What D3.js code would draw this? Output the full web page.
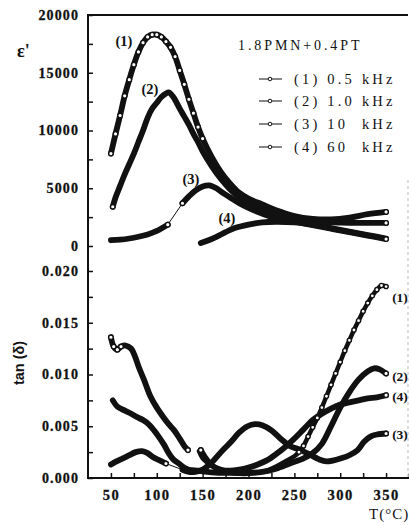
<!DOCTYPE html>
<html><head><meta charset="utf-8">
<script src="https://cdn.jsdelivr.net/npm/d3@7"></script>
<style>body{margin:0;background:#fff}svg{display:block}</style>
</head><body>
<script>
// ---------- data ----------
const seriesLabels = ["(1) 0.5 kHz", "(2) 1.0 kHz", "(3) 10  kHz", "(4) 60  kHz"];
const title = "1.8PMN+0.4PT";
const xTicks = [50, 100, 150, 200, 250, 300, 350];
const epsTicks = [0, 5000, 10000, 15000, 20000];
const tanTicks = [0.000, 0.005, 0.010, 0.015, 0.020];

// epsilon' (T, value)
const eps1 = [[50,8000],[55,9700],[60,11300],[65,13000],[70,14400],[75,15700],[80,16800],[85,17600],[90,18100],[95,18300],[100,18300],[105,18100],[110,17700],[115,17200],[120,16400],[125,15200],[130,14000],[135,12700],[140,11500],[145,10300],[150,9300],[160,7700],[170,6400],[180,5400],[190,4600],[200,4100],[215,3600],[230,3100],[250,2600],[270,2350],[290,2300],[310,2450],[330,2750],[350,2950]];
const eps2 = [[52,3400],[55,4200],[60,5200],[65,6200],[70,7100],[75,8000],[80,9000],[85,10000],[90,11100],[95,11900],[100,12400],[105,12900],[110,13200],[113,13300],[118,12900],[125,11900],[130,11200],[135,10500],[140,9700],[145,9000],[150,8200],[160,6900],[170,5800],[180,4900],[190,4200],[200,3700],[215,3200],[230,2750],[250,2400],[270,2150],[290,2050],[310,2000],[330,2000],[350,2000]];
const eps3a = [[50,500],[60,550],[70,650],[80,800],[90,1000],[100,1300],[112,1850]];
const eps3b = [[128,3700],[135,4300],[142,4800],[150,5150],[157,5250],[165,5000],[172,4600],[180,4200],[190,3700],[200,3300],[215,2800],[230,2400],[250,2100],[270,1800],[290,1500],[310,1200],[330,900],[350,600]];
const eps4 = [[148,250],[155,450],[165,800],[175,1200],[185,1550],[200,1850],[215,2050],[230,2100],[250,2050],[270,1850],[290,1550],[310,1250],[330,950],[350,650]];

// tan(delta) (T, value)
const tan1a = [[50,0.0136],[53,0.0127],[57,0.0124],[61,0.0127],[66,0.0128],[72,0.0125],[76,0.0118],[80,0.0108],[86,0.0095],[93,0.0079],[100,0.0068],[107,0.0059],[113,0.0052],[119,0.0046],[125,0.0038],[130,0.0031],[134,0.0027]];
const tan1b = [[146,0.0026],[150,0.0019],[160,0.0012],[170,0.0008],[180,0.0005],[190,0.0004],[200,0.0004],[210,0.0005],[220,0.0007],[230,0.0011],[240,0.0016],[250,0.0021],[255,0.0025],[260,0.0031],[265,0.0040],[270,0.0049],[275,0.0058],[280,0.0068],[285,0.0079],[290,0.0090],[295,0.0101],[300,0.0112],[305,0.0123],[310,0.0133],[315,0.0143],[320,0.0152],[325,0.0161],[330,0.0169],[335,0.0176],[340,0.0182],[345,0.0186],[350,0.0185]];
const tan2 = [[52,0.0075],[57,0.0069],[63,0.0066],[70,0.0063],[78,0.0059],[85,0.0056],[91,0.0052],[97,0.0046],[102,0.0040],[108,0.0032],[113,0.0024],[118,0.0018],[124,0.0014],[130,0.0010],[135,0.0008],[145,0.0007],[155,0.0006],[170,0.0005],[185,0.0005],[200,0.0005],[215,0.0006],[230,0.0009],[245,0.0014],[260,0.0019],[270,0.0024],[280,0.0033],[290,0.0050],[300,0.0068],[310,0.0083],[320,0.0095],[330,0.0103],[337,0.0106],[343,0.0105],[350,0.0101]];
const tan3a = [[50,0.0013],[56,0.0016],[63,0.0019],[70,0.0022],[77,0.0025],[84,0.0026],[90,0.0024],[96,0.0020],[103,0.0017],[110,0.0014]];
const tan3b = [[128,0.0008],[135,0.0006],[142,0.0006],[150,0.0008],[156,0.0012],[162,0.0017],[170,0.0025],[181,0.0035],[190,0.0044],[199,0.0050],[207,0.0052],[215,0.0051],[225,0.0046],[235,0.0038],[245,0.0031],[257,0.0027],[268,0.0022],[277,0.0018],[285,0.0016],[293,0.0017],[301,0.0019],[310,0.0022],[319,0.0027],[326,0.0035],[333,0.0040],[340,0.0042],[350,0.0043]];
const tan4 = [[148,0.0027],[152,0.0021],[160,0.0012],[170,0.0008],[180,0.0007],[190,0.0008],[200,0.0010],[210,0.0013],[220,0.0017],[230,0.0023],[240,0.0030],[250,0.0038],[260,0.0047],[270,0.0056],[280,0.0062],[290,0.0067],[300,0.0071],[310,0.0073],[320,0.0075],[330,0.0077],[340,0.0078],[350,0.0080]];

// ---------- drawing ----------
const W = 409, H = 525;
const svg = d3.select("body").append("svg").attr("width", W).attr("height", H);

const x = d3.scaleLinear().domain([25, 375]).range([88, 409]);
const yE = d3.scaleLinear().domain([0, 20000]).range([246, 15]);
const yT = d3.scaleLinear().domain([0, 0.020]).range([478, 271]);

const serif = "'Liberation Serif','DejaVu Serif',serif";
const sans = "'Liberation Sans',Arial,sans-serif";

// frame
svg.append("line").attr("x1", 88).attr("x2", 408).attr("y1", 15).attr("y2", 15)
  .attr("stroke", "#111").attr("stroke-width", 2);
svg.append("line").attr("x1", 408).attr("x2", 408).attr("y1", 180).attr("y2", 478)
  .attr("stroke", "#bbb").attr("stroke-width", 1).attr("stroke-dasharray", "3,3");

const axE = d3.axisLeft(yE).tickValues(d3.range(0, 20001, 2500))
  .tickFormat(d => d % 5000 === 0 ? d : "").tickSizeInner(-5).tickSizeOuter(0).tickPadding(9);
const gE = svg.append("g").attr("transform", "translate(88,0)").call(axE);
const axT = d3.axisLeft(yT).tickValues(d3.range(0, 9).map(i => i * 0.0025))
  .tickFormat(d => { const r = Math.round(d * 10000); return r % 50 === 0 ? d3.format(".3f")(d) : ""; })
  .tickSizeInner(-5).tickSizeOuter(0).tickPadding(9);
const gT = svg.append("g").attr("transform", "translate(88,0)").call(axT);
const axX = d3.axisBottom(x).tickValues(d3.range(50, 376, 25))
  .tickFormat(d => d % 50 === 0 ? d : "").tickSizeInner(-5).tickSizeOuter(0).tickPadding(12);
const gX = svg.append("g").attr("transform", "translate(0,478)").call(axX);

[gE, gT, gX].forEach(g => {
  g.selectAll(".domain").remove();
  g.selectAll(".tick line").attr("stroke", "#111").attr("stroke-width", 1.5);
  g.selectAll("text").attr("font-family", serif).attr("font-weight", "bold")
    .attr("font-size", 14).attr("fill", "#111").attr("letter-spacing", 1.1)
    .attr("stroke", "#111").attr("stroke-width", 0.3);
});
gX.selectAll("text").attr("font-size", 14.5).attr("letter-spacing", 1.5);
svg.append("line").attr("x1", 88).attr("x2", 88).attr("y1", 14).attr("y2", 479)
  .attr("stroke", "#111").attr("stroke-width", 2);
svg.append("line").attr("x1", 88).attr("x2", 409).attr("y1", 478).attr("y2", 478)
  .attr("stroke", "#111").attr("stroke-width", 2);

// curves
const lineE = d3.line().x(d => x(d[0])).y(d => yE(d[1])).curve(d3.curveCatmullRom);
const lineT = d3.line().x(d => x(d[0])).y(d => yT(d[1])).curve(d3.curveCatmullRom);

function thick(data, gen, w) {
  svg.append("path").datum(data).attr("d", gen).attr("fill", "none")
    .attr("stroke", "#111").attr("stroke-width", w || 5.8)
    .attr("stroke-linecap", "round").attr("stroke-linejoin", "round");
}
function thin(a, b, ys) {
  svg.append("line").attr("x1", x(a[0])).attr("y1", ys(a[1])).attr("x2", x(b[0])).attr("y2", ys(b[1]))
    .attr("stroke", "#111").attr("stroke-width", 1);
}
function circles(data, ys, r) {
  svg.append("g").selectAll("circle").data(data).join("circle")
    .attr("cx", d => x(d[0])).attr("cy", d => ys(d[1])).attr("r", r || 2.3)
    .attr("fill", "#fff").attr("stroke", "#111").attr("stroke-width", 1.4);
}

thick(eps4, lineE);
thick(eps3a, lineE); thick(eps3b, lineE); thin(eps3a[eps3a.length - 1], eps3b[0], yE);
thick(eps2, lineE);
thick(eps1, lineE);
circles(eps1.filter(d => d[0] <= 150), yE);
circles([eps1[eps1.length - 1], eps2[eps2.length - 1], eps3b[eps3b.length - 1], eps2[0], eps3a[eps3a.length - 1], eps3b[0]], yE);

thick(tan4, lineT);
thick(tan3a, lineT); thick(tan3b, lineT); thin(tan3a[tan3a.length - 1], tan3b[0], yT);
thick(tan2, lineT);
thick(tan1a, lineT); thick(tan1b, lineT, 4.5);
circles(tan1a.slice(0, 4), yT);
circles(tan1b.filter(d => d[0] >= 255), yT, 2.1);
circles([tan1a[tan1a.length - 1], tan2[tan2.length - 1], tan3b[tan3b.length - 1], tan4[tan4.length - 1], tan3a[tan3a.length - 1], tan4[0]], yT);

// texts
function txt(s, xx, yy, size, fam, opts) {
  const t = svg.append("text").attr("x", xx).attr("y", yy).text(s)
    .attr("font-family", fam || serif).attr("font-weight", "bold").attr("font-size", size).attr("fill", "#111");
  if (opts) Object.entries(opts).forEach(([k, v]) => t.attr(k, v));
  return t;
}
txt("ε'", 17, 57, 18);
txt("tan (δ)", 0, 0, 14.5, sans, { transform: "translate(24,363) rotate(-90)", "text-anchor": "middle" });
txt("T(°C)", 369, 519, 15, serif, { "font-weight": "normal", "letter-spacing": 1 });

txt(title, 238, 50, 14, serif, { "font-weight": "normal", "letter-spacing": 2.9 });

seriesLabels.forEach((s, i) => {
  const yy = [79, 101, 124, 147][i];
  svg.append("line").attr("x1", 259).attr("x2", 282).attr("y1", yy).attr("y2", yy).attr("stroke", "#111").attr("stroke-width", 1);
  svg.append("circle").attr("cx", 270).attr("cy", yy).attr("r", 1.8).attr("fill", "#fff").attr("stroke", "#111").attr("stroke-width", 1);
  txt(s, 294, yy + 5, 14.5, serif, { "font-weight": "normal", "letter-spacing": 3.2 }).style("white-space", "pre");
});

const nums = ["(1)", "(2)", "(3)", "(4)"];
[[124, 41], [150, 89], [191, 179], [227, 218]].forEach((p, i) => txt(nums[i], p[0], p[1] + 5, 14.5, serif, { "text-anchor": "middle" }));
[[400, 297, 0], [400, 376, 1], [400, 396, 3], [400, 434, 2]].forEach(p => txt(nums[p[2]], p[0], p[1] + 5, 13.5, serif, { "text-anchor": "middle" }));
</script>
</body></html>
